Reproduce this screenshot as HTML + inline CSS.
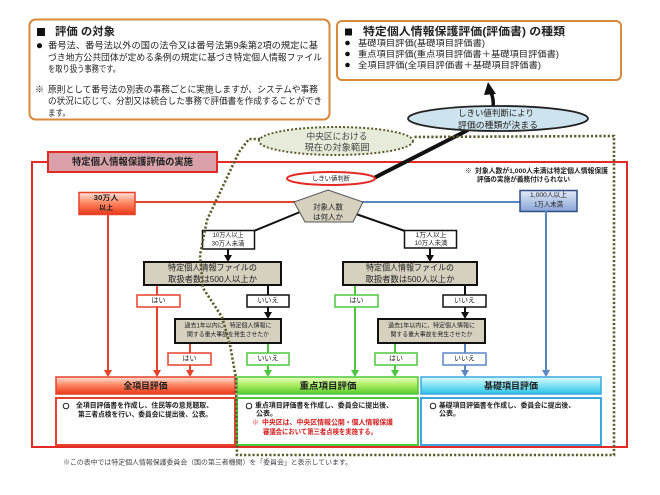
<!DOCTYPE html>
<html><head><meta charset="utf-8"><style>
html,body{margin:0;padding:0;background:#fff;}
svg{display:block}
text{font-family:"Liberation Sans","Noto Sans CJK JP",sans-serif;dominant-baseline:central;fill:#222;}
.b{font-weight:bold}
.c{text-anchor:middle}
</style></head><body>
<svg width="660" height="495" viewBox="0 0 660 495" xmlns="http://www.w3.org/2000/svg">
<defs>
<linearGradient id="gR" x1="0" y1="0" x2="0" y2="1"><stop offset="0" stop-color="#ffe4da"/><stop offset="0.45" stop-color="#ff8a66"/><stop offset="1" stop-color="#ea3818"/></linearGradient>
<linearGradient id="gG" x1="0" y1="0" x2="0" y2="1"><stop offset="0" stop-color="#f0ffc4"/><stop offset="0.5" stop-color="#a6ea5e"/><stop offset="1" stop-color="#56cc2e"/></linearGradient>
<linearGradient id="gC" x1="0" y1="0" x2="0" y2="1"><stop offset="0" stop-color="#e2fcff"/><stop offset="0.5" stop-color="#80e2f2"/><stop offset="1" stop-color="#2cc2e4"/></linearGradient>
<linearGradient id="gB" x1="0" y1="0" x2="0" y2="1"><stop offset="0" stop-color="#e2eaf8"/><stop offset="1" stop-color="#88a4d6"/></linearGradient>
</defs>

<!-- top-left box -->
<rect x="29.5" y="19.5" width="300" height="100" rx="6" fill="#fff" stroke="#d8893a" stroke-width="2"/>
<rect x="37" y="28" width="8" height="8" fill="#111"/>
<text x="55" y="32" font-size="11" class="b" textLength="60" lengthAdjust="spacingAndGlyphs">評価 の対象</text>
<circle cx="39.5" cy="45.7" r="2.6" fill="#111"/>
<text x="48" y="45.7" font-size="9.2" textLength="270" lengthAdjust="spacingAndGlyphs">番号法、番号法以外の国の法令又は番号法第9条第2項の規定に基</text>
<text x="48" y="57.3" font-size="9.2" textLength="274" lengthAdjust="spacingAndGlyphs">づき地方公共団体が定める条例の規定に基づき特定個人情報ファイル</text>
<text x="48" y="69" font-size="9.2" textLength="72" lengthAdjust="spacingAndGlyphs">を取り扱う事務です。</text>
<text x="35" y="89.7" font-size="9">※</text>
<text x="48" y="89.7" font-size="9.2" textLength="270" lengthAdjust="spacingAndGlyphs">原則として番号法の別表の事務ごとに実施しますが、システムや事務</text>
<text x="48" y="101" font-size="9.2" textLength="274" lengthAdjust="spacingAndGlyphs">の状況に応じて、分割又は統合した事務で評価書を作成することができ</text>
<text x="48" y="113" font-size="9.2" textLength="22" lengthAdjust="spacingAndGlyphs">ます。</text>

<!-- top-right box -->
<rect x="337" y="21" width="284" height="59" rx="5" fill="#fff" stroke="#d8893a" stroke-width="2"/>
<rect x="345" y="28.5" width="7" height="7" fill="#111"/>
<text x="363" y="32" font-size="11" class="b" textLength="202" lengthAdjust="spacingAndGlyphs">特定個人情報保護評価(評価書) の種類</text>
<circle cx="347.5" cy="43" r="2.3" fill="#111"/>
<circle cx="347.5" cy="54" r="2.3" fill="#111"/>
<circle cx="347.5" cy="65" r="2.3" fill="#111"/>
<text x="358" y="43" font-size="8.8" textLength="127" lengthAdjust="spacingAndGlyphs">基礎項目評価(基礎項目評価書)</text>
<text x="358" y="54" font-size="8.8" textLength="201" lengthAdjust="spacingAndGlyphs">重点項目評価(重点項目評価書＋基礎項目評価書)</text>
<text x="358" y="65" font-size="8.8" textLength="183" lengthAdjust="spacingAndGlyphs">全項目評価(全項目評価書＋基礎項目評価書)</text>

<!-- arrow up to top-right box -->
<path d="M493 107 Q494 100 491 92" stroke="#111" stroke-width="3.5" fill="none"/>
<polygon points="488,82 484,95 496,94" fill="#111"/>

<!-- red frame -->
<path d="M32 162 H627 V447 H32 Z" fill="none" stroke="#e32b25" stroke-width="2"/>
<rect x="48" y="152" width="169" height="20" fill="#d9a1a9" stroke="#e32b25" stroke-width="2"/>
<text x="132.5" y="162.5" font-size="9.5" class="b c" textLength="121" lengthAdjust="spacingAndGlyphs">特定個人情報保護評価の実施</text>

<!-- note -->
<text x="465" y="171.7" font-size="6.8" class="b">※</text>
<text x="475" y="171.7" font-size="6.8" class="b" textLength="133" lengthAdjust="spacingAndGlyphs">対象人数が1,000人未満は特定個人情報保護</text>
<text x="477" y="180" font-size="6.8" class="b" textLength="93" lengthAdjust="spacingAndGlyphs">評価の実施が義務付けられない</text>

<!-- thick line from threshold to ellipse -->
<line x1="374" y1="178" x2="468" y2="130" stroke="#111" stroke-width="4"/>

<!-- blue ellipse -->
<ellipse cx="498" cy="118.5" rx="90" ry="12.5" fill="#cde3ed" stroke="#222" stroke-width="1.8"/>
<text x="496" y="113" font-size="8.8" class="c" textLength="76" lengthAdjust="spacingAndGlyphs">しきい値判断により</text>
<text x="498" y="125" font-size="8.8" class="c" textLength="80" lengthAdjust="spacingAndGlyphs">評価の種類が決まる</text>

<!-- threshold ellipse -->
<ellipse cx="331" cy="178.5" rx="44" ry="6.5" fill="#fff" stroke="#e32b25" stroke-width="2"/>
<text x="331" y="179" font-size="6.5" class="c" textLength="38" lengthAdjust="spacingAndGlyphs">しきい値判断</text>

<!-- horizontal lines from pentagon -->
<line x1="135" y1="202" x2="295" y2="202" stroke="#e8412c" stroke-width="2"/>
<line x1="362" y1="202" x2="520" y2="202" stroke="#5a86c4" stroke-width="2"/>

<!-- diagonal black lines -->
<line x1="300" y1="212" x2="254" y2="231" stroke="#111" stroke-width="2"/>
<line x1="356" y1="214" x2="405" y2="231" stroke="#111" stroke-width="2"/>

<!-- pentagon -->
<polygon points="328,190 363,202 353,222 305,222 294,202" fill="#d6d1be" stroke="#555" stroke-width="1"/>
<text x="328" y="207" font-size="7.6" class="c" textLength="30" lengthAdjust="spacingAndGlyphs">対象人数</text>
<text x="328" y="217" font-size="7.6" class="c" textLength="30" lengthAdjust="spacingAndGlyphs">は何人か</text>

<!-- 30万人 box -->
<rect x="79" y="192.5" width="56" height="22" fill="url(#gR)" stroke="#e8412c" stroke-width="1.5"/>
<text x="106" y="198.5" font-size="7" class="c b" textLength="25" lengthAdjust="spacingAndGlyphs">30万人</text>
<text x="106" y="208.5" font-size="7" class="c b">以上</text>

<!-- 1,000人 box -->
<rect x="520" y="190.5" width="57" height="21" fill="url(#gB)" stroke="#2f4f86" stroke-width="1.5"/>
<text x="548.5" y="195.5" font-size="6.6" class="c" textLength="37" lengthAdjust="spacingAndGlyphs">1,000人以上</text>
<text x="548.5" y="205" font-size="6.6" class="c" textLength="29" lengthAdjust="spacingAndGlyphs">1万人未満</text>

<!-- range boxes -->
<rect x="202.5" y="230.5" width="52" height="18.5" fill="#fff" stroke="#111" stroke-width="1.5"/>
<text x="228" y="235.5" font-size="6.3" class="c" textLength="31" lengthAdjust="spacingAndGlyphs">10万人以上</text>
<text x="228" y="243.8" font-size="6.3" class="c" textLength="33" lengthAdjust="spacingAndGlyphs">30万人未満</text>
<rect x="404.5" y="230.5" width="52" height="17.5" fill="#fff" stroke="#111" stroke-width="1.5"/>
<text x="431" y="235.3" font-size="6.3" class="c" textLength="31" lengthAdjust="spacingAndGlyphs">1万人以上</text>
<text x="431" y="243.5" font-size="6.3" class="c" textLength="33" lengthAdjust="spacingAndGlyphs">10万人未満</text>

<!-- arrows into question boxes -->
<line x1="228" y1="249" x2="228" y2="257" stroke="#111" stroke-width="2"/>
<polygon points="224,255 232,255 228,262" fill="#111"/>
<line x1="430" y1="248" x2="430" y2="257" stroke="#111" stroke-width="2"/>
<polygon points="426,255 434,255 430,262" fill="#111"/>

<!-- vertical colored lines -->
<g stroke-width="2" fill="none">
<line x1="108" y1="215" x2="108" y2="372" stroke="#e8412c"/>
<line x1="157" y1="285" x2="157" y2="372" stroke="#e8412c"/>
<line x1="190" y1="343" x2="190" y2="372" stroke="#e8412c"/>
<line x1="268" y1="343" x2="268" y2="372" stroke="#4cc83c"/>
<line x1="355" y1="285" x2="355" y2="372" stroke="#4cc83c"/>
<line x1="395" y1="343" x2="395" y2="372" stroke="#4cc83c"/>
<line x1="465" y1="343" x2="465" y2="372" stroke="#5a86c4"/>
<line x1="546" y1="211" x2="546" y2="372" stroke="#5a86c4"/>
<line x1="268" y1="285" x2="268" y2="314" stroke="#111"/>
<line x1="465" y1="285" x2="465" y2="314" stroke="#111"/>
</g>
<g>
<polygon points="104,370 112,370 108,377" fill="#e8412c"/>
<polygon points="153,370 161,370 157,377" fill="#e8412c"/>
<polygon points="186,370 194,370 190,377" fill="#e8412c"/>
<polygon points="264,370 272,370 268,377" fill="#4cc83c"/>
<polygon points="351,370 359,370 355,377" fill="#4cc83c"/>
<polygon points="391,370 399,370 395,377" fill="#4cc83c"/>
<polygon points="461,370 469,370 465,377" fill="#5a86c4"/>
<polygon points="542,370 550,370 546,377" fill="#5a86c4"/>
<polygon points="264,312 272,312 268,319" fill="#111"/>
<polygon points="461,312 469,312 465,319" fill="#111"/>
</g>

<!-- question boxes -->
<rect x="144" y="262" width="137" height="23" fill="#d6d1be" stroke="#111" stroke-width="2"/>
<text x="212.5" y="267.5" font-size="8.3" class="c" textLength="89" lengthAdjust="spacingAndGlyphs">特定個人情報ファイルの</text>
<text x="212.5" y="279" font-size="8.3" class="c" textLength="89" lengthAdjust="spacingAndGlyphs">取扱者数は500人以上か</text>
<rect x="343" y="262" width="134" height="23" fill="#d6d1be" stroke="#111" stroke-width="2"/>
<text x="410" y="267.5" font-size="8.3" class="c" textLength="88" lengthAdjust="spacingAndGlyphs">特定個人情報ファイルの</text>
<text x="410" y="279" font-size="8.3" class="c" textLength="89" lengthAdjust="spacingAndGlyphs">取扱者数は500人以上か</text>

<rect x="175" y="319" width="106" height="24" fill="#d6d1be" stroke="#111" stroke-width="2"/>
<text x="228" y="326" font-size="6.2" class="c" textLength="87" lengthAdjust="spacingAndGlyphs">過去1年以内に、特定個人情報に</text>
<text x="228" y="335" font-size="6.2" class="c" textLength="82" lengthAdjust="spacingAndGlyphs">関する重大事故を発生させたか</text>
<rect x="378" y="319" width="107" height="24" fill="#d6d1be" stroke="#111" stroke-width="2"/>
<text x="431.5" y="326" font-size="6.2" class="c" textLength="87" lengthAdjust="spacingAndGlyphs">過去1年以内に、特定個人情報に</text>
<text x="431.5" y="335" font-size="6.2" class="c" textLength="82" lengthAdjust="spacingAndGlyphs">関する重大事故を発生させたか</text>

<!-- yes/no labels -->
<g stroke-width="1.5" fill="#fff">
<rect x="137" y="295" width="43" height="12" stroke="#e8412c"/>
<rect x="247" y="295" width="42" height="12" stroke="#111"/>
<rect x="168" y="353" width="43" height="12" stroke="#e8412c"/>
<rect x="247" y="353" width="42" height="12" stroke="#4cc83c"/>
<rect x="335" y="295" width="43" height="12" stroke="#4cc83c"/>
<rect x="443" y="295" width="43" height="12" stroke="#111"/>
<rect x="375" y="353" width="42" height="12" stroke="#4cc83c"/>
<rect x="443" y="353" width="43" height="12" stroke="#5a86c4"/>
</g>
<g font-size="7">
<text x="158.5" y="301" class="c">はい</text>
<text x="268" y="301" class="c">いいえ</text>
<text x="189.5" y="359" class="c">はい</text>
<text x="268" y="359" class="c">いいえ</text>
<text x="356.5" y="301" class="c">はい</text>
<text x="464.5" y="301" class="c">いいえ</text>
<text x="396" y="359" class="c">はい</text>
<text x="464.5" y="359" class="c">いいえ</text>
</g>

<!-- bottom result boxes -->
<rect x="56" y="377" width="179" height="17" fill="url(#gR)" stroke="#e8412c" stroke-width="1.5"/>
<text x="145.5" y="386" font-size="9.2" class="c b" textLength="44" lengthAdjust="spacingAndGlyphs">全項目評価</text>
<rect x="56" y="398" width="179" height="47" fill="#fff" stroke="#e8412c" stroke-width="2"/>
<circle cx="66" cy="406" r="2.8" fill="none" stroke="#222" stroke-width="1"/>
<text x="76" y="406" font-size="7" class="b" textLength="137" lengthAdjust="spacingAndGlyphs">全項目評価書を作成し、住民等の意見聴取、</text>
<text x="78" y="415" font-size="7" class="b" textLength="134" lengthAdjust="spacingAndGlyphs">第三者点検を行い、委員会に提出後、公表。</text>

<rect x="237" y="377" width="181" height="17" fill="url(#gG)" stroke="#4cc83c" stroke-width="1.5"/>
<text x="328" y="386" font-size="9.2" class="c b" textLength="57" lengthAdjust="spacingAndGlyphs">重点項目評価</text>
<rect x="237" y="398" width="181" height="47" fill="#fff" stroke="#4cc83c" stroke-width="2"/>
<circle cx="249" cy="406" r="2.8" fill="none" stroke="#222" stroke-width="1"/>
<text x="255" y="406" font-size="7" class="b" textLength="138" lengthAdjust="spacingAndGlyphs">重点項目評価書を作成し、委員会に提出後、</text>
<text x="256" y="414" font-size="7" class="b">公表。</text>
<text x="252" y="423" font-size="7" class="b" style="fill:#d42020">※</text>
<text x="262" y="423" font-size="7" class="b" style="fill:#d42020" textLength="131" lengthAdjust="spacingAndGlyphs">中央区は、中央区情報公開・個人情報保護</text>
<text x="263" y="432.5" font-size="7" class="b" style="fill:#d42020" textLength="114" lengthAdjust="spacingAndGlyphs">審議会において第三者点検を実施する。</text>

<rect x="421" y="377" width="180" height="17" fill="url(#gC)" stroke="#3aa8e0" stroke-width="1.5"/>
<text x="511" y="386" font-size="9.2" class="c b" textLength="54" lengthAdjust="spacingAndGlyphs">基礎項目評価</text>
<rect x="421" y="398" width="180" height="47" fill="#fff" stroke="#3aa8e0" stroke-width="2"/>
<circle cx="433" cy="406" r="2.8" fill="none" stroke="#222" stroke-width="1"/>
<text x="439" y="406" font-size="7" class="b" textLength="136" lengthAdjust="spacingAndGlyphs">基礎項目評価書を作成し、委員会に提出後、</text>
<text x="439" y="414" font-size="7" class="b">公表。</text>

<!-- dotted scope region -->
<ellipse cx="336" cy="141" rx="77" ry="14" fill="#e7ebda" stroke="#5c5c2e" stroke-width="2" stroke-dasharray="2 2"/>
<text x="337" y="136.5" font-size="9" class="c" style="fill:#444" textLength="61" lengthAdjust="spacingAndGlyphs">中央区における</text>
<text x="337" y="147.5" font-size="9" class="c" style="fill:#444" textLength="65" lengthAdjust="spacingAndGlyphs">現在の対象範囲</text>
<path d="M260 139 L249 139 L239 152 L207 220 L200 255 L203 288 L222 317 L230 345 L236 378 L237 455 L614 455 L614 136 L413 137" fill="none" stroke="#5c5c2e" stroke-width="2.6" stroke-dasharray="2.2 2"/>

<!-- footer -->
<text x="63" y="463" font-size="6.7" style="fill:#444" textLength="289" lengthAdjust="spacingAndGlyphs">※この表中では特定個人情報保護委員会（国の第三者機関）を「委員会」と表示しています。</text>
</svg>
</body></html>
